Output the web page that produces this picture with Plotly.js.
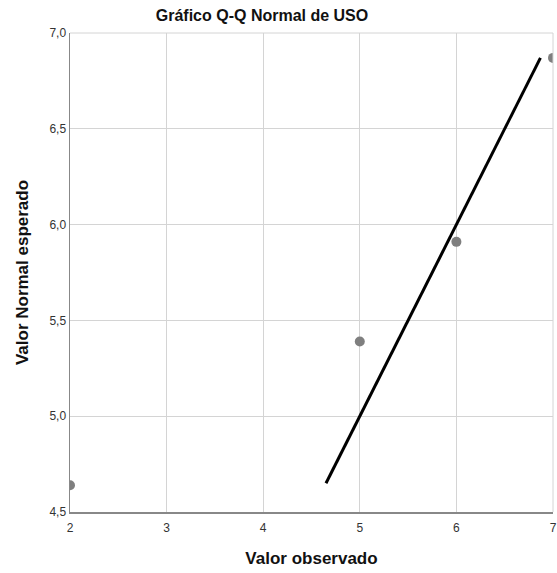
<!DOCTYPE html>
<html><head><meta charset="utf-8">
<script src="https://cdn.plot.ly/plotly-3.0.1.min.js"></script>
<style>html,body{margin:0;padding:0;background:#fff}#chart{width:557px;height:573px}</style>
</head><body><div id="chart"></div>
<script>
const observed = [2, 5, 6, 7];
const expectedNormal = [4.64, 5.39, 5.91, 6.87];
const refLineX = [4.65, 6.87];
const refLineY = [4.65, 6.87];
const xTicks = [2, 3, 4, 5, 6, 7];
const yTicks = [4.5, 5.0, 5.5, 6.0, 6.5, 7.0];

const FONT = 'Arial, "Liberation Sans", sans-serif';
const data = [
  {x: refLineX, y: refLineY, mode: 'lines', type: 'scatter',
   line: {color: '#000', width: 3}, hoverinfo: 'skip', showlegend: false},
  {x: observed, y: expectedNormal, mode: 'markers', type: 'scatter',
   marker: {color: '#7f7f7f', size: 10}, showlegend: false, cliponaxis: true}
];
const layout = {
  width: 557, height: 573,
  margin: {l: 70, r: 4, t: 33, b: 61},
  paper_bgcolor: '#fff', plot_bgcolor: '#fff',
  separators: ',.',
  font: {family: FONT, color: '#222'},
  title: {text: '<b>Gráfico Q-Q Normal de USO</b>', font: {size: 16, family: FONT, color: '#111'},
          x: 262/557, xanchor: 'center', y: 1 - 15/573, yanchor: 'middle', xref: 'container', yref: 'container'},
  xaxis: {range: [2, 7], tickvals: xTicks, ticktext: xTicks.map(String),
          showgrid: true, gridcolor: '#d4d4d4', gridwidth: 1,
          showline: true, linecolor: '#888', linewidth: 1.5, mirror: false,
          zeroline: false, ticks: '', tickfont: {size: 12, color: '#333'}, ticklabelstandoff: 4,
          title: {text: '<b>Valor observado</b>', font: {size: 17, color: '#111'}, standoff: 18},
          automargin: false},
  yaxis: {range: [4.5, 7.0], tickvals: yTicks, tickformat: '.1f',
          showgrid: true, gridcolor: '#d4d4d4', gridwidth: 1,
          showline: true, linecolor: '#888', linewidth: 1.5,
          zeroline: false, ticks: '', tickfont: {size: 12, color: '#333'},
          title: {text: '<b>Valor Normal esperado</b>', font: {size: 17, color: '#111'}, standoff: 16},
          automargin: false},
  shapes: [
    {type: 'line', xref: 'paper', yref: 'paper', x0: 0, x1: 1, y0: 1, y1: 1, line: {color: '#d4d4d4', width: 1}},
    {type: 'line', xref: 'paper', yref: 'paper', x0: 1, x1: 1, y0: 0, y1: 1, line: {color: '#d4d4d4', width: 1}}
  ]
};
Plotly.newPlot('chart', data, layout, {displayModeBar: false, staticPlot: true});
</script></body></html>
